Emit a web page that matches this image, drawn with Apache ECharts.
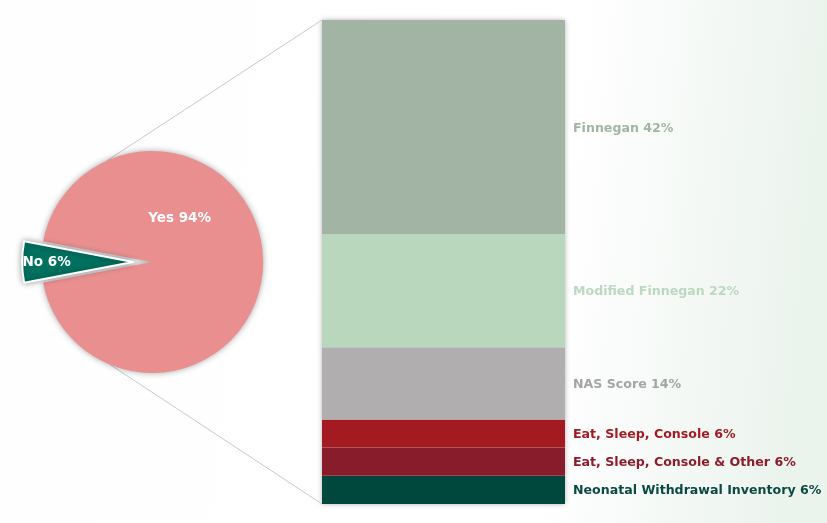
<!DOCTYPE html>
<html>
<head>
<meta charset="utf-8">
<script src="https://cdn.jsdelivr.net/npm/echarts@6/dist/echarts.min.js"></script>
<style>html,body{margin:0;padding:0;background:#fff}#c{width:827px;height:523px}</style>
</head>
<body>
<div id="c"></div>
<script>
// Pie data
var pieNames = ['Yes', 'No'];
var pieValues = [94, 6];
var pieColors = ['#ea8f90', '#00705f'];

// Bar breakdown (bottom to top)
var barNames = ['Neonatal Withdrawal Inventory', 'Eat, Sleep, Console & Other', 'Eat, Sleep, Console', 'NAS Score', 'Modified Finnegan', 'Finnegan'];
// segment sizes as read from the drawn heights
var barValues = [5.6, 5.6, 5.6, 14.3, 22.4, 42.6];
// percentages as printed on the labels
var barLabelPct = [6, 6, 6, 14, 22, 42];
var barColors = ['#00483e', '#891c2a', '#a31b21', '#b0aeae', '#b9d7bd', '#a2b5a5'];
var labelColors = ['#0a4a40', '#8c1c2a', '#a31b21', '#a4a4a4', '#bcd8c0', '#a2b5a5'];

var FONT = '"DejaVu Sans", Verdana, sans-serif';
var chart = echarts.init(document.getElementById('c'));

var total = barValues.reduce(function (a, b) { return a + b; }, 0);

var series = [];
barNames.forEach(function (n, i) {
  series.push({
    type: 'bar', name: n, stack: 's', barWidth: '100%',
    data: [barValues[i]],
    itemStyle: { color: barColors[i] },
    label: {
      show: true, position: 'right', distance: 8, offset: [0, 1],
      formatter: n + ' ' + barLabelPct[i] + '%',
      color: labelColors[i], fontFamily: FONT, fontWeight: 'bold', fontSize: 12.6
    },
    z: 3
  });
});

var pieCenter = ['18.4%', '50.1%'];
var pieRadius = 111;
series.push({
  type: 'pie', center: pieCenter, radius: pieRadius,
  startAngle: 169.2, clockwise: true,
  selectedMode: 'single', selectedOffset: 19,
  animation: false,
  label: { show: true, position: 'inside', color: '#fff', fontFamily: FONT, fontWeight: 'bold', fontSize: 13.5 },
  labelLine: { show: false },
  emphasis: { disabled: true },
  data: pieNames.map(function (n, i) {
    var d = {
      name: n, value: pieValues[i],
      itemStyle: { color: pieColors[i], shadowBlur: 6, shadowColor: 'rgba(0,0,0,0.35)' },
      label: { formatter: n + ' ' + pieValues[i] + '%' }
    };
    if (i === 0) { d.label.offset = [-31, -44]; }
    if (i === 1) {
      d.selected = true; d.itemStyle.borderColor = '#fff'; d.itemStyle.borderWidth = 2;
      d.label.padding = [0, 56, 0, 0];
    }
    return d;
  }),
  z: 4
});

chart.setOption({
  animation: false,
  backgroundColor: {
    type: 'linear', x: 0, y: 0, x2: 1, y2: 0.15,
    colorStops: [
      { offset: 0, color: '#fdfefd' },
      { offset: 0.7, color: '#ffffff' },
      { offset: 1, color: '#ebf3ed' }
    ]
  },
  grid: { left: 322, top: 20, width: 243, height: 484 },
  xAxis: { type: 'category', data: [''], show: false },
  yAxis: { type: 'value', min: 0, max: total, show: false },
  series: series
});

// Connector lines and bar shadow computed from chart geometry
var W = chart.getWidth(), H = chart.getHeight();
var cx = parseFloat(pieCenter[0]) / 100 * W, cy = parseFloat(pieCenter[1]) / 100 * H;
var tl = chart.convertToPixel({ gridIndex: 0 }, ['', total]);
var bl = chart.convertToPixel({ gridIndex: 0 }, ['', 0]);
var barLeft = 322, barTop = tl[1], barBottom = bl[1];
var a1 = 114 * Math.PI / 180, a2 = -112 * Math.PI / 180;
var p1 = [cx + pieRadius * Math.cos(a1), cy - pieRadius * Math.sin(a1)];
var p2 = [cx + pieRadius * Math.cos(a2), cy - pieRadius * Math.sin(a2)];
chart.setOption({
  graphic: [
    { type: 'line', shape: { x1: p1[0], y1: p1[1], x2: barLeft, y2: barTop }, style: { stroke: '#c9c9c9', lineWidth: 1 }, z: 1 },
    { type: 'line', shape: { x1: p2[0], y1: p2[1], x2: barLeft, y2: barBottom }, style: { stroke: '#c9c9c9', lineWidth: 1 }, z: 1 },
    { type: 'rect', shape: { x: barLeft, y: barTop, width: 243, height: barBottom - barTop }, style: { fill: '#ffffff', shadowBlur: 5, shadowColor: 'rgba(0,0,0,0.3)' }, z: 0 }
  ]
});
</script>
</body>
</html>
